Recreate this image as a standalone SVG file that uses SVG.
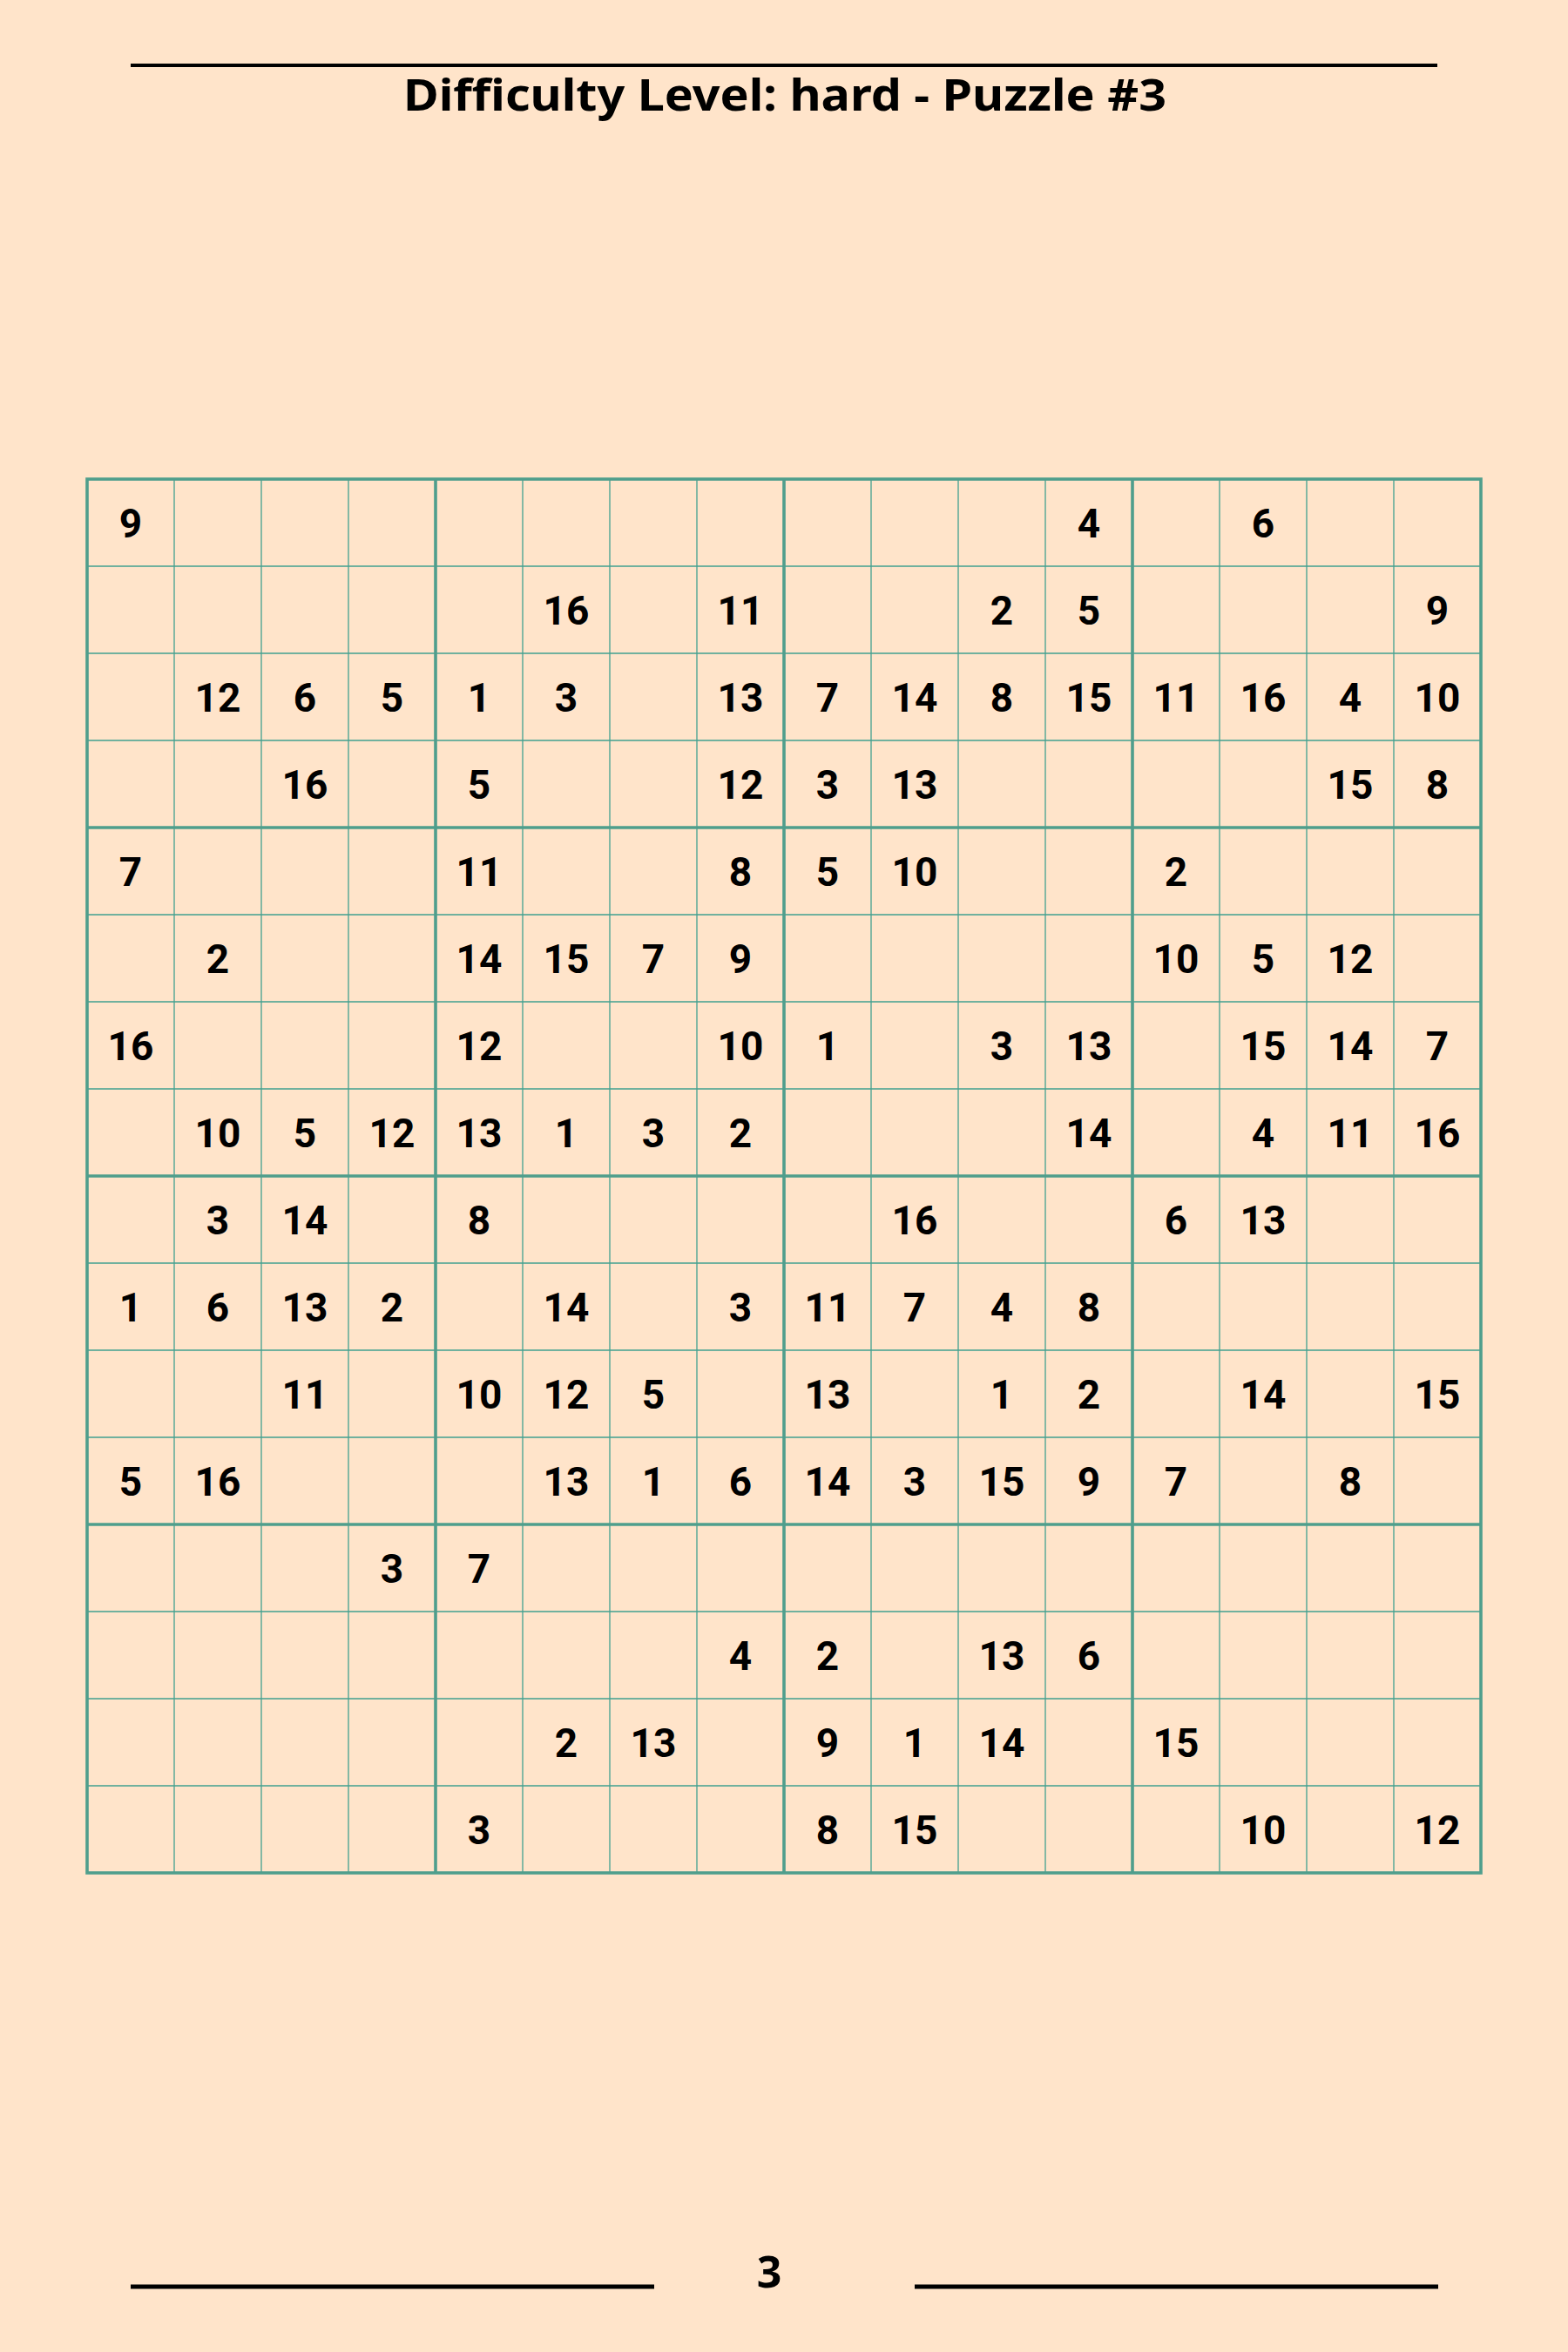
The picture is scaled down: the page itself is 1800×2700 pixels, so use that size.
<svg xmlns="http://www.w3.org/2000/svg" width="1800" height="2700" viewBox="0 0 1800 2700">
<style>
.thin{stroke:#42a090;stroke-width:1.3;fill:none}
.thick{stroke:#4f9e8c;stroke-width:3.6;fill:none}
.rule{stroke:#000;fill:none}
.n{font-family:Roboto,"Liberation Sans",sans-serif;font-weight:700;font-size:46px;fill:#000;text-anchor:middle}
.title{font-family:"Noto Sans","Open Sans","Liberation Sans",sans-serif;font-weight:700;font-size:50px;fill:#000;text-anchor:middle}
</style>
<rect id="background" x="0" y="0" width="1800" height="2700" fill="#ffe4ca"/>
<g id="header">
<line class="rule" x1="150" y1="75" x2="1650" y2="75" stroke-width="4"/>
<text class="title" x="901" y="127" textLength="876" lengthAdjust="spacingAndGlyphs">Difficulty Level: hard - Puzzle #3</text>
</g>
<g id="grid">
<path class="thin" d="M200 550V2150M300 550V2150M400 550V2150M600 550V2150M700 550V2150M800 550V2150M1000 550V2150M1100 550V2150M1200 550V2150M1400 550V2150M1500 550V2150M1600 550V2150M100 650H1700M100 750H1700M100 850H1700M100 1050H1700M100 1150H1700M100 1250H1700M100 1450H1700M100 1550H1700M100 1650H1700M100 1850H1700M100 1950H1700M100 2050H1700"/>
<path class="thick" d="M500 550V2150M900 550V2150M1300 550V2150M100 950H1700M100 1350H1700M100 1750H1700"/>
<rect class="thick" x="100" y="550" width="1600" height="1600" stroke-width="4"/>
</g>
<g id="numbers">
<g id="row1"><text class="n" x="150" y="617">9</text><text class="n" x="1250" y="617">4</text><text class="n" x="1450" y="617">6</text></g>
<g id="row2"><text class="n" x="650" y="717">16</text><text class="n" x="850" y="717">11</text><text class="n" x="1150" y="717">2</text><text class="n" x="1250" y="717">5</text><text class="n" x="1650" y="717">9</text></g>
<g id="row3"><text class="n" x="250" y="817">12</text><text class="n" x="350" y="817">6</text><text class="n" x="450" y="817">5</text><text class="n" x="550" y="817">1</text><text class="n" x="650" y="817">3</text><text class="n" x="850" y="817">13</text><text class="n" x="950" y="817">7</text><text class="n" x="1050" y="817">14</text><text class="n" x="1150" y="817">8</text><text class="n" x="1250" y="817">15</text><text class="n" x="1350" y="817">11</text><text class="n" x="1450" y="817">16</text><text class="n" x="1550" y="817">4</text><text class="n" x="1650" y="817">10</text></g>
<g id="row4"><text class="n" x="350" y="917">16</text><text class="n" x="550" y="917">5</text><text class="n" x="850" y="917">12</text><text class="n" x="950" y="917">3</text><text class="n" x="1050" y="917">13</text><text class="n" x="1550" y="917">15</text><text class="n" x="1650" y="917">8</text></g>
<g id="row5"><text class="n" x="150" y="1017">7</text><text class="n" x="550" y="1017">11</text><text class="n" x="850" y="1017">8</text><text class="n" x="950" y="1017">5</text><text class="n" x="1050" y="1017">10</text><text class="n" x="1350" y="1017">2</text></g>
<g id="row6"><text class="n" x="250" y="1117">2</text><text class="n" x="550" y="1117">14</text><text class="n" x="650" y="1117">15</text><text class="n" x="750" y="1117">7</text><text class="n" x="850" y="1117">9</text><text class="n" x="1350" y="1117">10</text><text class="n" x="1450" y="1117">5</text><text class="n" x="1550" y="1117">12</text></g>
<g id="row7"><text class="n" x="150" y="1217">16</text><text class="n" x="550" y="1217">12</text><text class="n" x="850" y="1217">10</text><text class="n" x="950" y="1217">1</text><text class="n" x="1150" y="1217">3</text><text class="n" x="1250" y="1217">13</text><text class="n" x="1450" y="1217">15</text><text class="n" x="1550" y="1217">14</text><text class="n" x="1650" y="1217">7</text></g>
<g id="row8"><text class="n" x="250" y="1317">10</text><text class="n" x="350" y="1317">5</text><text class="n" x="450" y="1317">12</text><text class="n" x="550" y="1317">13</text><text class="n" x="650" y="1317">1</text><text class="n" x="750" y="1317">3</text><text class="n" x="850" y="1317">2</text><text class="n" x="1250" y="1317">14</text><text class="n" x="1450" y="1317">4</text><text class="n" x="1550" y="1317">11</text><text class="n" x="1650" y="1317">16</text></g>
<g id="row9"><text class="n" x="250" y="1417">3</text><text class="n" x="350" y="1417">14</text><text class="n" x="550" y="1417">8</text><text class="n" x="1050" y="1417">16</text><text class="n" x="1350" y="1417">6</text><text class="n" x="1450" y="1417">13</text></g>
<g id="row10"><text class="n" x="150" y="1517">1</text><text class="n" x="250" y="1517">6</text><text class="n" x="350" y="1517">13</text><text class="n" x="450" y="1517">2</text><text class="n" x="650" y="1517">14</text><text class="n" x="850" y="1517">3</text><text class="n" x="950" y="1517">11</text><text class="n" x="1050" y="1517">7</text><text class="n" x="1150" y="1517">4</text><text class="n" x="1250" y="1517">8</text></g>
<g id="row11"><text class="n" x="350" y="1617">11</text><text class="n" x="550" y="1617">10</text><text class="n" x="650" y="1617">12</text><text class="n" x="750" y="1617">5</text><text class="n" x="950" y="1617">13</text><text class="n" x="1150" y="1617">1</text><text class="n" x="1250" y="1617">2</text><text class="n" x="1450" y="1617">14</text><text class="n" x="1650" y="1617">15</text></g>
<g id="row12"><text class="n" x="150" y="1717">5</text><text class="n" x="250" y="1717">16</text><text class="n" x="650" y="1717">13</text><text class="n" x="750" y="1717">1</text><text class="n" x="850" y="1717">6</text><text class="n" x="950" y="1717">14</text><text class="n" x="1050" y="1717">3</text><text class="n" x="1150" y="1717">15</text><text class="n" x="1250" y="1717">9</text><text class="n" x="1350" y="1717">7</text><text class="n" x="1550" y="1717">8</text></g>
<g id="row13"><text class="n" x="450" y="1817">3</text><text class="n" x="550" y="1817">7</text></g>
<g id="row14"><text class="n" x="850" y="1917">4</text><text class="n" x="950" y="1917">2</text><text class="n" x="1150" y="1917">13</text><text class="n" x="1250" y="1917">6</text></g>
<g id="row15"><text class="n" x="650" y="2017">2</text><text class="n" x="750" y="2017">13</text><text class="n" x="950" y="2017">9</text><text class="n" x="1050" y="2017">1</text><text class="n" x="1150" y="2017">14</text><text class="n" x="1350" y="2017">15</text></g>
<g id="row16"><text class="n" x="550" y="2117">3</text><text class="n" x="950" y="2117">8</text><text class="n" x="1050" y="2117">15</text><text class="n" x="1450" y="2117">10</text><text class="n" x="1650" y="2117">12</text></g>
</g>
<g id="footer">
<line class="rule" x1="150" y1="2625" x2="751" y2="2625" stroke-width="5"/>
<line class="rule" x1="1050" y1="2625" x2="1651" y2="2625" stroke-width="5"/>
<text class="title" x="883" y="2626" font-size="52">3</text>
</g>
</svg>
